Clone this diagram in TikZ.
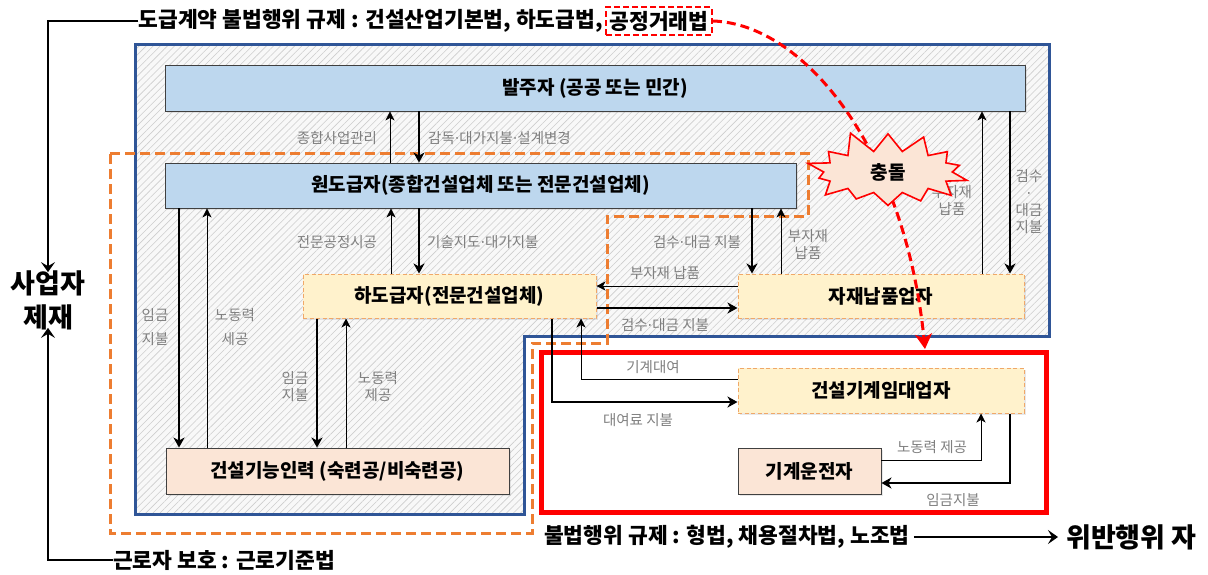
\documentclass[tikz,border=0pt]{standalone}
\usepackage{fontspec}
\setmainfont{Noto Sans CJK KR}
\newfontfamily\dotfam{DejaVu Sans}
\usetikzlibrary{arrows.meta,shapes.symbols,shadows,patterns.meta}
\definecolor{blueline}{HTML}{2F5597}
\definecolor{boxblue}{HTML}{BDD7EE}
\definecolor{boxyel}{HTML}{FFF2CC}
\definecolor{peach}{HTML}{FBE5D6}
\definecolor{orng}{HTML}{ED7D31}
\definecolor{yelborder}{HTML}{F0A868}
\definecolor{lblgray}{HTML}{7F7F7F}
\definecolor{hatchc}{HTML}{CDCDCD}
\definecolor{hatchbg}{HTML}{F8F8F8}
\definecolor{redc}{HTML}{FF0000}
\newcommand{\ndfont}{\fontsize{19}{22}\selectfont\bfseries}
\newcommand{\lbfont}{\fontsize{14.5}{17}\selectfont}
\newcommand{\ttlfont}{\fontsize{21.5}{24}\selectfont\bfseries}
\newcommand{\bgfont}{\fontsize{27}{34}\selectfont\bfseries}
\newcommand{\md}{{\dotfam ·}}
\tikzset{
  shad/.style={drop shadow={opacity=0.18,shadow xshift=2pt,shadow yshift=-2pt}},
  bluebox/.style={draw=black!75,line width=0.9pt,fill=boxblue,shad,font=\ndfont,inner sep=2pt},
  yelbox/.style={draw=yelborder,dash pattern=on 4pt off 2.5pt,line width=1pt,fill=boxyel,shad,font=\ndfont,inner sep=2pt},
  peachbox/.style={draw=black!75,line width=0.9pt,fill=peach,shad,font=\ndfont,inner sep=2pt},
  thinarr/.style={-{Stealth[length=9pt,width=9pt,inset=2.5pt]},line width=0.8pt},
  thickarr/.style={-{Stealth[length=10pt,width=11pt,inset=3pt]},line width=2.6pt},
  sidearr/.style={-{Stealth[length=10pt,width=14pt,inset=4pt]},line width=1.5pt},
  lbl/.style={text=lblgray,font=\lbfont,align=center,inner sep=1pt},
  ttl/.style={font=\ttlfont,inner sep=0pt},
}
\begin{document}
\begin{tikzpicture}[x=1pt,y=-1pt]
\useasboundingbox (0,0) rectangle (1208,574);
% hatched region with blue border
\draw[preaction={fill=hatchbg},pattern={Lines[angle=45,distance=5pt,line width=0.6pt]},pattern color=hatchc,draw=blueline,line width=3pt]
  (135,44) -- (1049,44) -- (1049,336) -- (524,336) -- (524,514) -- (135,514) -- cycle;
% orange dashed region
\draw[orng,line width=3pt,dash pattern=on 10pt off 5pt]
  (110,153) -- (808,153) -- (808,216) -- (607,216) -- (607,343) -- (532,343) -- (532,533) -- (110,533) -- cycle;
% red region
\draw[redc,line width=5pt,fill=white] (541,352) rectangle (1046,512);

% nodes
\node[bluebox,minimum width=860pt,minimum height=46pt] (balju) at (595,88) {발주자 (공공 또는 민간)};
\node[bluebox,minimum width=631pt,minimum height=45pt] (wondo) at (480.5,185.5) {원도급자(종합건설업체 또는 전문건설업체)};
\node[yelbox,minimum width=293pt,minimum height=44pt] (hado) at (449.5,296) {하도급자(전문건설업체)};
\node[yelbox,minimum width=286pt,minimum height=44pt] (jajae) at (881,296) {자재납품업자};
\node[yelbox,minimum width=286pt,minimum height=45pt] (imdae) at (881,390.5) {건설기계임대업자};
\node[peachbox,minimum width=143pt,minimum height=46pt] (unjeon) at (809.5,471) {기계운전자};
\node[peachbox,minimum width=343pt,minimum height=46pt] (gineung) at (337.5,471) {건설기능인력 (숙련공/비숙련공)};

% connectors
\draw[thinarr] (wondo.north -| 390,0) -- (balju.south -| 390,0);
\draw[thickarr] (balju.south -| 419,0) -- (wondo.north -| 419,0);
\draw[thickarr] (wondo.south -| 179,0) -- (gineung.north -| 179,0);
\draw[thinarr] (gineung.north -| 207,0) -- (wondo.south -| 207,0);
\draw[thinarr] (hado.north -| 391,0) -- (wondo.south -| 391,0);
\draw[thickarr] (wondo.south -| 419,0) -- (hado.north -| 419,0);
\draw[thickarr] (wondo.south -| 752,0) -- (jajae.north -| 752,0);
\draw[thinarr] (jajae.north -| 781,0) -- (wondo.south -| 781,0);
\draw[thinarr] (jajae.west |- 0,286) -- (hado.east |- 0,286);
\draw[thickarr] (hado.east |- 0,308) -- (jajae.west |- 0,308);
\draw[thinarr] (jajae.north -| 982,0) -- (balju.south -| 982,0);
\draw[thickarr] (balju.south -| 1010,0) -- (jajae.north -| 1010,0);
\draw[thickarr] (hado.south -| 317,0) -- (gineung.north -| 317,0);
\draw[thinarr] (gineung.north -| 346,0) -- (hado.south -| 346,0);
\draw[thickarr] (hado.south -| 552,0) |- (imdae.west |- 0,402);
\draw[thinarr] (imdae.west |- 0,379) -| (hado.south -| 581,0);
\draw[thinarr] (unjeon.east |- 0,460) -| (imdae.south -| 981,0);
\draw[thickarr] (imdae.south -| 1010,0) |- (unjeon.east |- 0,483);

% labels
\node[lbl] (l1) at (337,138) {종합사업관리};
\node[lbl,anchor=west] (l2) at (427,138) {감독\md 대가지불\md 설계변경};
\node[lbl,font=\fontsize{14.5}{24}\selectfont] (l3) at (155,327) {임금\\지불};
\node[lbl,font=\fontsize{14.5}{24}\selectfont] (l4) at (235,327) {노동력\\세공};
\node[lbl] (l5) at (337,242) {전문공정시공};
\node[lbl,anchor=west] (l6) at (426,242) {기술지도\md 대가지불};
\node[lbl] (l7) at (697,242) {검수\md 대금 지불};
\node[lbl] (l8) at (808,244) {부자재\\납품};
\node[lbl] (l9) at (665,273) {부자재 납품};
\node[lbl] (l10) at (665,325) {검수\md 대금 지불};
\node[lbl] (l11) at (952,200) {부자재\\납품};
\node[lbl] (l12) at (1029,202) {검수\\\md\\대금\\지불};
\node[lbl] (l13) at (295,387) {임금\\지불};
\node[lbl] (l14) at (378,387) {노동력\\제공};
\node[lbl] (l15) at (653,367) {기계대여};
\node[lbl] (l16) at (638,420) {대여료 지불};
\node[lbl] (l17) at (932,447) {노동력 제공};
\node[lbl] (l18) at (953,500) {임금지불};

% titles
\node[ttl,draw=redc,dash pattern=on 6pt off 3pt,line width=2pt,inner sep=3.5pt] (gong) at (659,21) {공정거래법};
\node[ttl,anchor=east] (title1) at ([xshift=-2pt]gong.west) {도급계약 불법행위 규제 : 건설산업기본법, 하도급법,};
\node[font=\bgfont,align=center,inner sep=0pt] (saeop) at (48,300) {사업자\\제재};
\node[ttl,anchor=west] (geunro) at (113,560) {근로자 보호 : 근로기준법};
\node[ttl,anchor=west] (bulbeop) at (544,537) {불법행위 규제 : 형법, 채용절차법, 노조법};
\node[font=\bgfont,anchor=west,inner sep=0pt] (wiban) at (1066,537) {위반행위 자};

\draw[sidearr] (title1.west) -- ++(-4,0) -| ([yshift=-2pt]saeop.north);
\draw[sidearr] (geunro.west) -- ++(-4,0) -| ([yshift=2pt]saeop.south);
\draw[sidearr] ([xshift=4pt]bulbeop.east) -- ([xshift=-8pt]wiban.west);

% conflict curve
\coordinate (hit) at (925,349);
\draw[redc,line width=3pt,dash pattern=on 9pt off 5pt,-{Stealth[length=15pt,width=17pt,inset=4pt]}]
  (gong.east) .. controls (805,24) and (905,150) .. (hit);
\node[starburst,starburst points=14,starburst point height=23pt,random starburst=11,draw=redc,line width=1.6pt,fill=peach,inner xsep=28pt,inner ysep=6pt,font=\fontsize{19}{22}\selectfont\bfseries] (star) at (888,172) {충돌};
\end{tikzpicture}
\end{document}
